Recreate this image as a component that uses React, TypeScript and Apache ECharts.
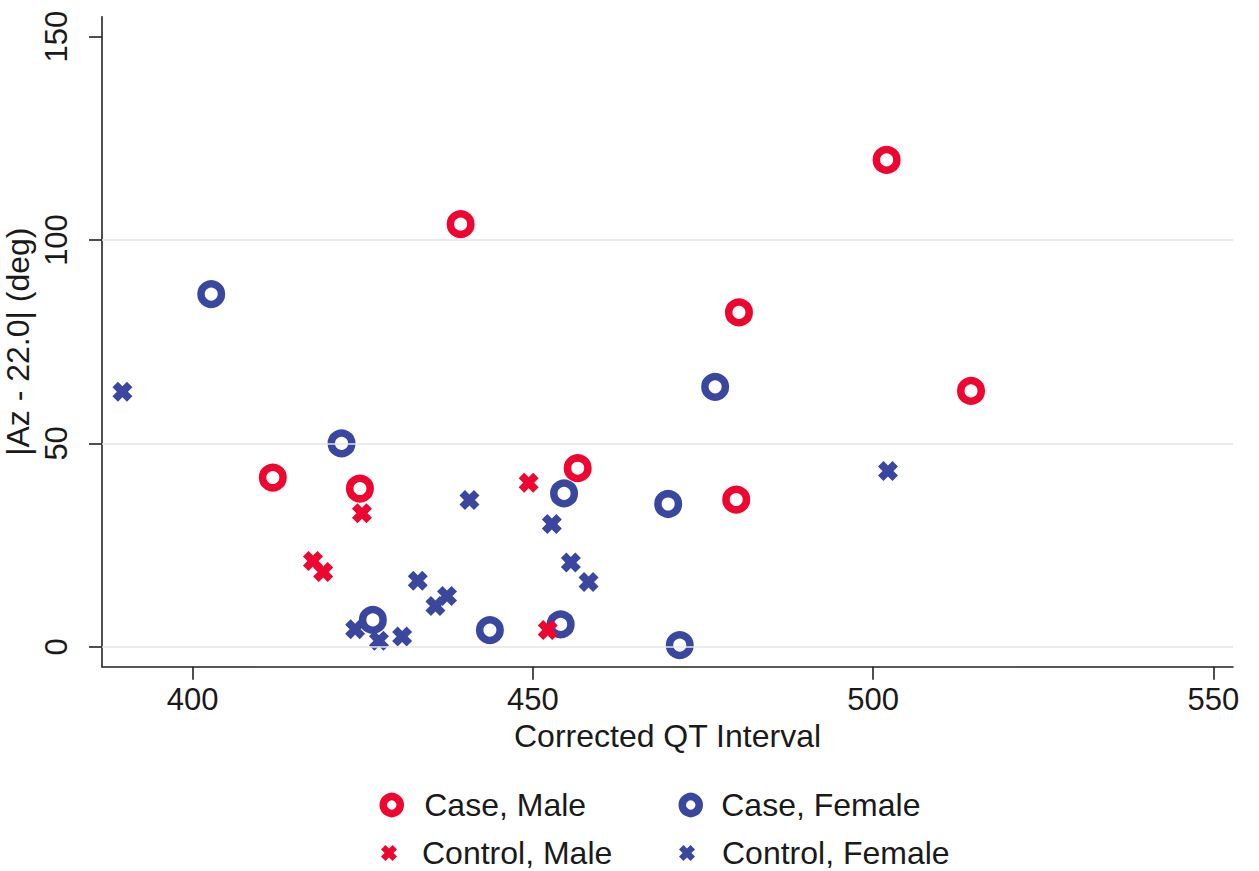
import React, { useEffect, useRef } from "react";
import * as echarts from "echarts";

const RED = "#EE0530";
const BLUE = "#3A479E";

// [Corrected QT Interval, |Az - 22.0| (deg)]
const caseMale: number[][] = [
  [502.0, 119.7], [439.4, 103.9], [480.3, 82.2], [514.4, 62.9],
  [411.8, 41.6], [424.6, 38.9], [456.6, 43.9], [479.9, 36.2],
];
const caseFemale: number[][] = [
  [402.75, 86.7], [421.9, 50.0], [426.5, 6.6], [443.7, 4.1], [454.6, 37.7],
  [454.1, 5.5], [469.9, 35.1], [471.6, 0.4], [476.8, 63.9],
];
const controlMale: number[][] = [
  [424.9, 32.8], [417.7, 21.1], [419.2, 18.4], [449.4, 40.3], [452.2, 4.1],
];
const controlFemale: number[][] = [
  [389.7, 62.7], [440.7, 36.1], [433.1, 16.2], [437.4, 12.5], [435.7, 10.0],
  [423.9, 4.3], [427.4, 1.5], [430.8, 2.5], [452.8, 30.2], [455.6, 20.7],
  [458.2, 15.9], [502.2, 43.2],
];
const xTicks = [400, 450, 500, 550];
const yTicks = [0, 50, 100, 150];
const gridValues = [0, 50, 100];
const seriesNames = ["Case, Male", "Case, Female", "Control, Male", "Control, Female"];

const X_PATH =
  "path://M2.75,0 L5,2.25 L7.25,0 L10,2.75 L7.75,5 L10,7.25 L7.25,10 L5,7.75 L2.75,10 L0,7.25 L2.25,5 L0,2.75 Z";

const FONT = "'Liberation Sans', Arial, Helvetica, sans-serif";
const TXT = "#1a1a1a";

export default function App() {
  const ref = useRef<HTMLDivElement>(null);
  useEffect(() => {
    document.body.style.margin = "0";
    const chart = echarts.init(ref.current!, null, { renderer: "svg" });
    const ring = (color: string) => ({
      color: "rgba(255,255,255,0)",
      borderColor: color,
      borderWidth: 7.5,
      opacity: 1,
    });
    const legendItem = (
      name: string,
      left: number,
      top: number,
      icon: string,
      size: number,
      style: any,
      pad: number
    ) => ({
      show: true,
      left,
      top,
      orient: "vertical",
      itemWidth: size,
      itemHeight: size,
      padding: 0,
      selectedMode: false,
      data: [{ name, icon, itemStyle: style }],
      textStyle: {
        fontFamily: FONT,
        fontSize: 32,
        color: TXT,
        lineHeight: 36,
        padding: [0, 0, 0, pad],
      },
    });
    chart.setOption({
      animation: false,
      backgroundColor: "#ffffff",
      textStyle: { fontFamily: FONT },
      grid: {
        left: 102,
        top: 16.7,
        right: 26,
        bottom: 204.3,
        containLabel: false,
        outerBoundsMode: "none",
      },
      xAxis: {
        type: "value",
        min: 386.7,
        max: 552.9,
        name: "Corrected QT Interval",
        nameLocation: "middle",
        nameGap: 53,
        nameMoveOverlap: false,
        nameTextStyle: { fontFamily: FONT, fontSize: 32, color: TXT },
        axisLine: { show: true, onZero: false, lineStyle: { color: "#222", width: 1.6 } },
        axisTick: { show: true, length: 13, customValues: xTicks, lineStyle: { color: "#222", width: 1.6 } },
        axisLabel: { customValues: xTicks, fontFamily: FONT, fontSize: 31, color: TXT, margin: 17 },
        splitLine: { show: false },
      },
      yAxis: {
        type: "value",
        min: -4.9,
        max: 154.9,
        name: "|Az - 22.0| (deg)",
        nameLocation: "middle",
        nameGap: 68,
        nameMoveOverlap: false,
        nameTextStyle: { fontFamily: FONT, fontSize: 32, color: TXT },
        axisLine: { show: true, onZero: false, lineStyle: { color: "#222", width: 1.6 } },
        axisTick: { show: true, length: 13, customValues: yTicks, lineStyle: { color: "#222", width: 1.6 } },
        axisLabel: { customValues: yTicks, rotate: 90, fontFamily: FONT, fontSize: 31, color: TXT, margin: 30 },
        splitLine: { show: false },
      },
      legend: [
        legendItem(seriesNames[0], 379.5, 787, "circle", 17, { color: "rgba(255,255,255,0)", borderColor: RED, borderWidth: 7.5 }, 19),
        legendItem(seriesNames[2], 381, 835, X_PATH, 16, { color: RED, borderWidth: 0 }, 20),
        legendItem(seriesNames[1], 678.5, 787, "circle", 17, { color: "rgba(255,255,255,0)", borderColor: BLUE, borderWidth: 7.5 }, 17),
        legendItem(seriesNames[3], 679, 835, X_PATH, 16, { color: BLUE, borderWidth: 0 }, 22),
      ],
      series: [
        {
          name: "grid",
          type: "scatter",
          data: [],
          z: 0,
          silent: true,
          markLine: {
            silent: true,
            symbol: "none",
            animation: false,
            label: { show: false },
            lineStyle: { color: "#e4e4e4", width: 1.5, type: "solid" },
            data: gridValues.map((v) => ({ yAxis: v })),
          },
        },
        {
          name: seriesNames[0],
          type: "scatter",
          symbol: "circle",
          symbolSize: 20.5,
          itemStyle: ring(RED),
          data: caseMale,
          z: 3,
        },
        {
          name: seriesNames[1],
          type: "scatter",
          symbol: "circle",
          symbolSize: 20.5,
          itemStyle: ring(BLUE),
          data: caseFemale,
          z: 3,
        },
        {
          name: seriesNames[2],
          type: "scatter",
          symbol: X_PATH,
          symbolSize: 20,
          itemStyle: { color: RED, opacity: 1 },
          data: controlMale,
          z: 4,
        },
        {
          name: seriesNames[3],
          type: "scatter",
          symbol: X_PATH,
          symbolSize: 20,
          itemStyle: { color: BLUE, opacity: 1 },
          data: controlFemale,
          z: 4,
        },
      ],
    });
    return () => chart.dispose();
  }, []);
  return <div ref={ref} style={{ width: 1259, height: 871 }} />;
}
